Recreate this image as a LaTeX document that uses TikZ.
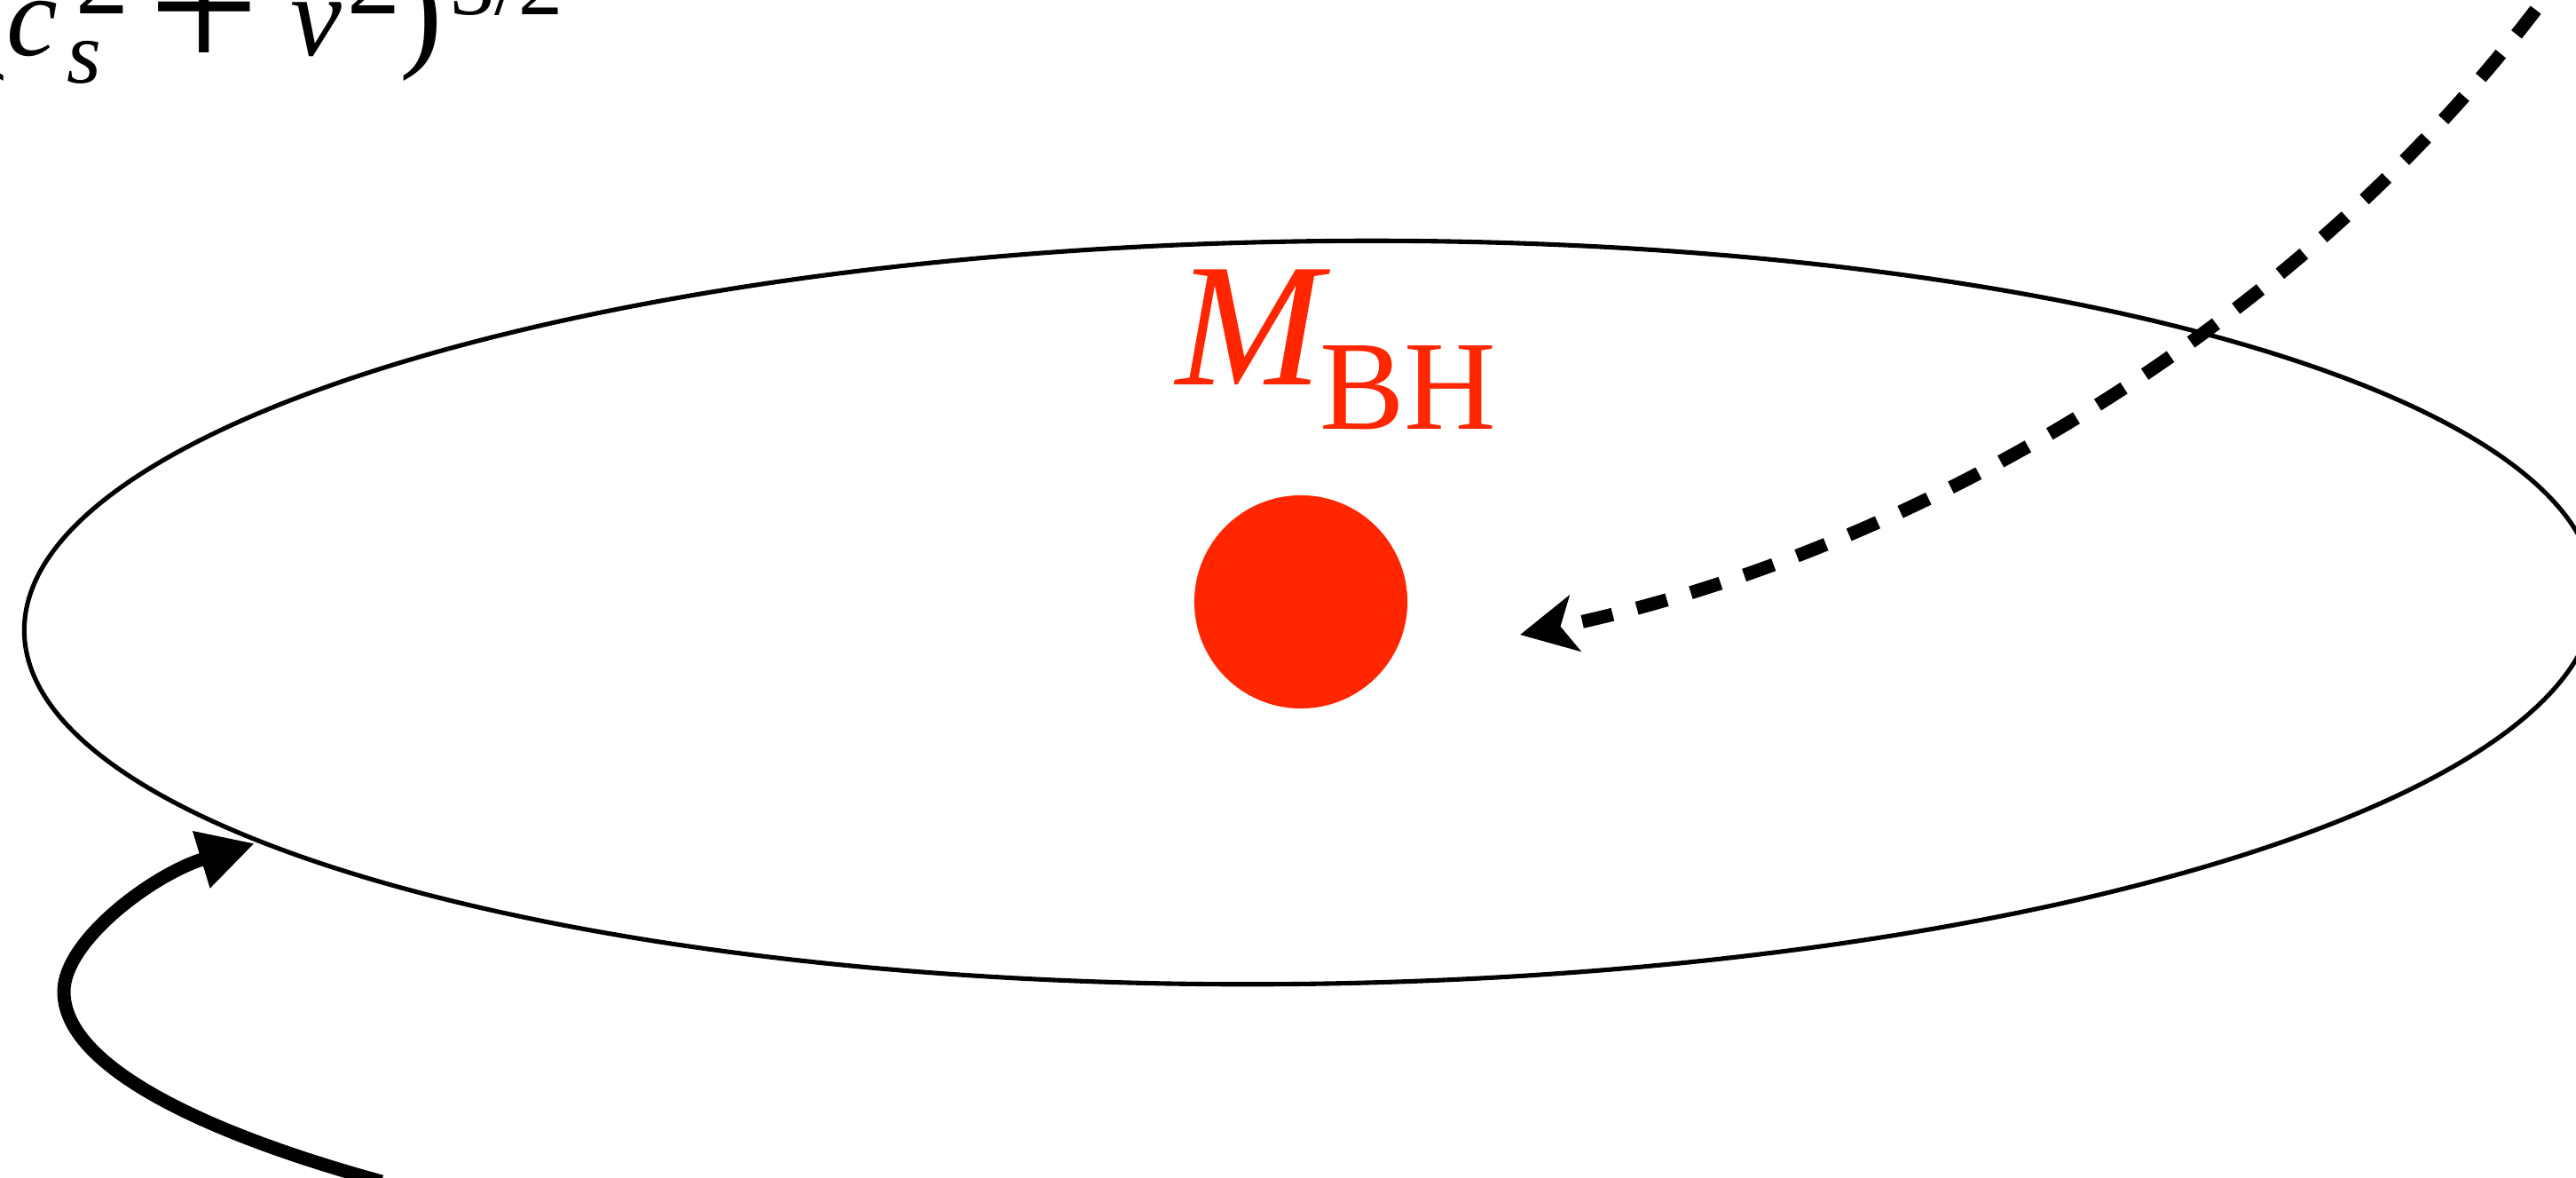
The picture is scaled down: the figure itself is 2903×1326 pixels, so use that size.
\documentclass[tikz,border=0pt]{standalone}
\usepackage{fontspec}
\setmainfont{Liberation Serif}
\usetikzlibrary{arrows.meta}
\definecolor{bhred}{RGB}{255,38,0}
\begin{document}
\begin{tikzpicture}[x=0.01cm,y=-0.01cm,
  txt/.style={inner sep=0pt,outer sep=0pt,anchor=base west},
  fmain/.style={txt,font=\fontsize{37}{40}\selectfont},
  fsup/.style={txt,font=\fontsize{34.1}{36}\selectfont},
  fsmall/.style={txt,font=\fontsize{28.45}{30}\selectfont},
  fparen/.style={txt,font=\fontsize{41.3}{44}\selectfont},
  fplus/.style={txt,font=\fontsize{63.2}{66}\selectfont},
  orbit/.style={line width=1.45pt},
  flow/.style={line width=4.27pt,-{Triangle[length=17.9pt,width=17.9pt]}},
  infall/.style={line width=4.27pt,dash pattern=on 10pt off 8pt,-{Stealth[length=17.9pt,width=18.1pt,inset=4.7pt]}}]
\useasboundingbox (0,0) rectangle (2903,1326);
\clip (0,0) rectangle (2903,1326);
% disc orbit
\draw[orbit,rotate around={0.86:(1476,690)}] (1476,690) ellipse [x radius=14.48cm,y radius=4.18cm];
% black hole
\node[circle,fill=bhred,minimum size=2.4cm,inner sep=0pt] (bh) at (1466,678) {};
\node[txt,text=bhred,font=\fontsize{56.3}{60}\selectfont\itshape] (m) at (1325,433) {M};
\node[txt,text=bhred,font=\fontsize{40.8}{44}\selectfont] (mbh) at (1487,483) {BH};
% formula (clipped by the frame)
\node[fparen] (lp) at (-39,60) {(};
\node[fmain] (c) at (8,62) {\textit{c}};
\node[fsup] (c2) at (85,15) {2};
\node[fsmall] (cs) at (75,93) {\textit{s}};
\node[fplus] (plus) at (167,81) {+};
\node[fmain] (v) at (327,62) {\textit{v}};
\node[fsup] (v2) at (391,15) {2};
\node[fparen] (rp) at (450,60) {)};
\node[fsmall] (pow) at (507,16) {3/2};
% solid inflow arrow
\coordinate (fs) at (430,1331);
\coordinate (fe) at (287,950);
\draw[flow] (fs) .. controls (226,1275) and (72,1200) .. (72,1117)
                 .. controls (72,1060) and (172,985) .. (fe);
% dashed infall arrow
\coordinate (ds) at (2895,-40);
\coordinate (de) at (1713,715);
\draw[infall] (ds) .. controls (2610,365) and (2150,625) .. (de);
\end{tikzpicture}
\end{document}
